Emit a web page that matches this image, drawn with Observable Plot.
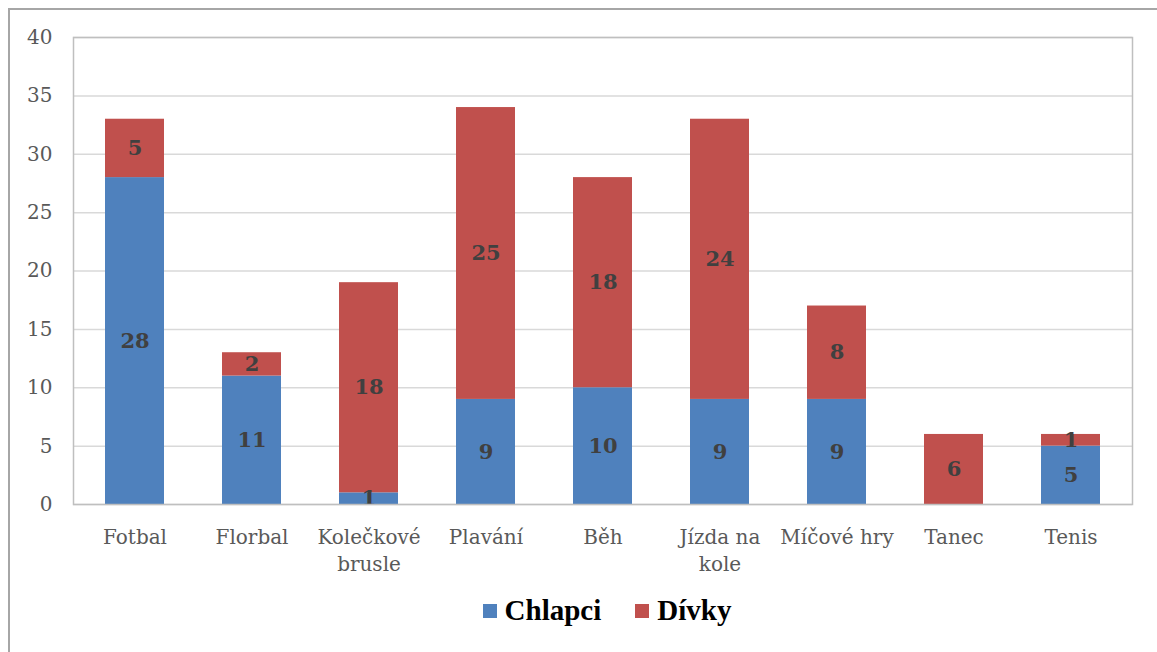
<!DOCTYPE html>
<html><head><meta charset="utf-8">
<script src="https://cdn.jsdelivr.net/npm/d3@7"></script>
<script src="https://cdn.jsdelivr.net/npm/@observablehq/plot@0.6"></script>
<style>
body{margin:0;background:#fff;overflow:hidden;}
#wrap{position:absolute;left:8px;top:8px;width:1149px;height:660px;border-top:2px solid #a6a6a6;border-left:2px solid #a6a6a6;box-sizing:border-box;background:#fff;}
#chart{position:absolute;left:0;top:0;}
#legend{position:absolute;left:56px;top:584px;width:1082px;display:flex;justify-content:center;gap:34px;font-family:"Liberation Serif",serif;font-weight:bold;font-size:29px;color:#000;}
#legend span.item{display:flex;align-items:center;}
#legend span.sw{display:inline-block;width:14px;height:14px;margin-right:8px;}
</style></head>
<body><div id="wrap"><div id="chart"></div><div id="legend"></div></div>
<script>
const categories = ["Fotbal","Florbal","Kolečkové\nbrusle","Plavání","Běh","Jízda na\nkole","Míčové hry","Tanec","Tenis"];
const chlapci = [28,11,1,9,10,9,9,0,5];
const divky = [5,2,18,25,18,24,8,6,1];
const seriesNames = ["Chlapci","Dívky"];
const colors = ["#4F81BD","#C0504D"];
const yTicks = [0,5,10,15,20,25,30,35,40];

const data = [];
categories.forEach((c,i)=>{
  data.push({cat:c, series:seriesNames[0], value:chlapci[i]});
  data.push({cat:c, series:seriesNames[1], value:divky[i]});
});

const font = "DejaVu Serif";
const chart = Plot.plot({
  width: 1136, height: 575,
  marginLeft: 63, marginRight: 14, marginTop: 27, marginBottom: 81,
  style: {fontFamily: font, background: "transparent"},
  x: {domain: categories, paddingInner: 0.5, paddingOuter: 0.25, label: null},
  y: {domain: [0,40], label: null},
  color: {domain: seriesNames, range: colors},
  marks: [
    Plot.gridY(yTicks, {stroke: "#d9d9d9", strokeOpacity: 1, strokeWidth: 1.5}),
    Plot.barY(data, Plot.stackY({x:"cat", y:"value", fill:"series", order: seriesNames})),
    Plot.text(data.filter(d=>d.value>0), Plot.stackY({x:"cat", y:"value", z:"series", order: seriesNames, text: d=>String(d.value), fill:"#404040", fontWeight:"bold", fontSize:21, fontFamily: font})),
    Plot.frame({stroke:"#bfbfbf", strokeWidth:1.5}),
    Plot.axisY(yTicks, {tickSize:0, tickPadding:21, fontSize:20, fill:"#595959", label:null}),
    Plot.axisX({tickSize:0, tickPadding:20, fontSize:20, fill:"#595959", lineHeight:1.35, label:null, textAnchor:"middle", lineAnchor:"top"})
  ]
});
document.getElementById("chart").appendChild(chart);

const lg = document.getElementById("legend");
seriesNames.forEach((s,i)=>{
  const it = document.createElement("span"); it.className="item";
  const sw = document.createElement("span"); sw.className="sw"; sw.style.background = colors[i];
  it.appendChild(sw); it.appendChild(document.createTextNode(s));
  lg.appendChild(it);
});
</script></body></html>
